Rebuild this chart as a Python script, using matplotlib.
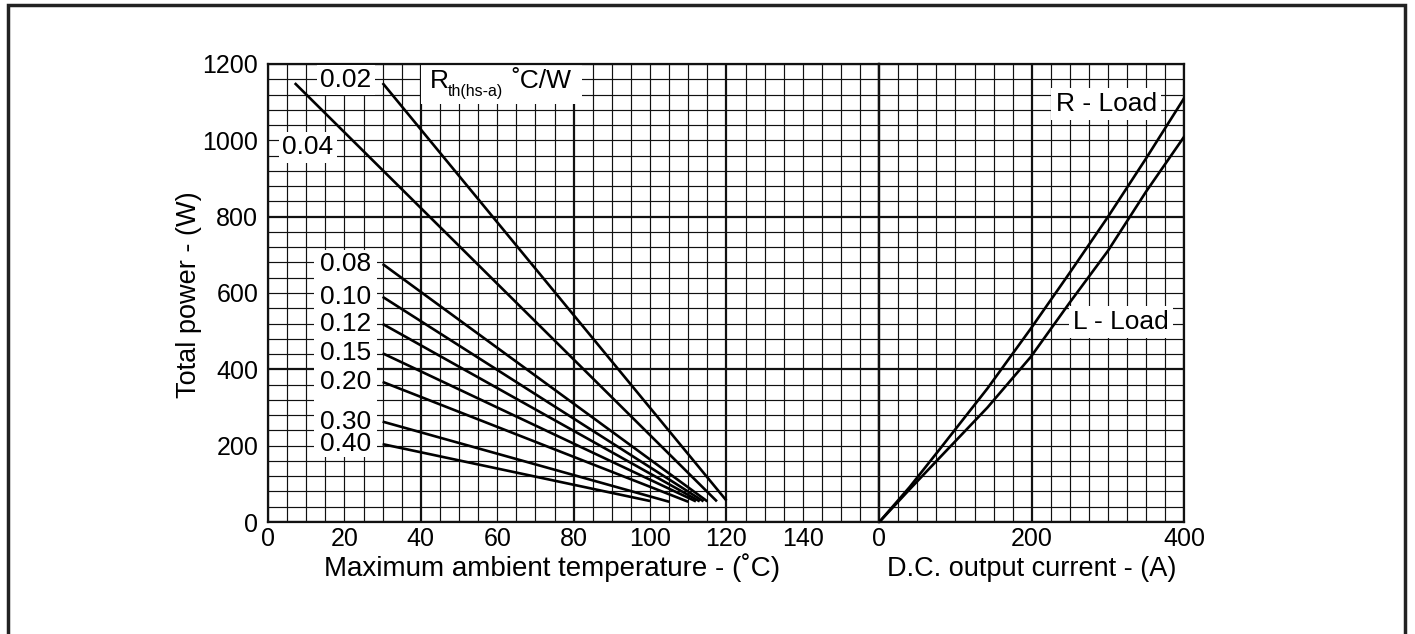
import matplotlib
matplotlib.use('Agg')
import matplotlib.pyplot as plt
import numpy as np
from matplotlib.patches import Rectangle

plt.rcParams['font.family'] = ['Liberation Sans', 'DejaVu Sans']

# ---- data ----
rth_labels = ['0.02', '0.04', '0.08', '0.10', '0.12', '0.15', '0.20', '0.30', '0.40']
t_start = [30, 7, 30, 30, 30, 30, 30, 30, 30]
p_start = [1150, 1150, 676, 590, 519, 442, 367, 263, 204]
t_end = [120, 117.5, 115, 114, 113, 112, 110, 105, 100]
p_end = [56, 54, 54, 54, 54, 54, 53, 53, 55]

r_current = [0, 40, 79, 142, 199, 250, 300, 350, 400]
r_power = [0, 92, 190, 350, 507, 653, 799, 952, 1110]
l_current = [0, 40, 79, 142, 199, 250, 300, 350, 400]
l_power = [0, 86, 168, 300, 433, 575, 710, 865, 1009]

temp_ticks = [0, 20, 40, 60, 80, 100, 120, 140]
current_ticks = [0, 200, 400]
power_ticks = [0, 200, 400, 600, 800, 1000, 1200]

W, H = 1415, 634
fig = plt.figure(figsize=(W / 100, H / 100), dpi=100)

x0, xm, x1 = 268, 879.3, 1184
ytop, ybot = 64, 522
b = (H - ybot) / H
h = (ybot - ytop) / H
ax1 = fig.add_axes([x0 / W, b, (xm - x0) / W, h])
ax2 = fig.add_axes([xm / W, b, (x1 - xm) / W, h])

GC = '#111111'


def draw_grid(ax, xmax, xminor, xmajor):
    for x in np.arange(0, xmax + 1e-9, xminor):
        major = abs((x / xmajor) - round(x / xmajor)) < 1e-9
        ax.axvline(x, color=GC, lw=1.6 if major else 0.85, zorder=1)
    for y in np.arange(0, 1200 + 1e-9, 40):
        major = abs((y / 400) - round(y / 400)) < 1e-9
        ax.axhline(y, color=GC, lw=1.6 if major else 0.85, zorder=1)


ax1.set_xlim(0, 160)
ax1.set_ylim(0, 1200)
ax2.set_xlim(0, 400)
ax2.set_ylim(0, 1200)
draw_grid(ax1, 160, 5, 40)
draw_grid(ax2, 400, 25, 200)

for ax in (ax1, ax2):
    for s in ax.spines.values():
        s.set_linewidth(1.6)
        s.set_color(GC)
    ax.tick_params(axis='x', length=0, labelsize=18, pad=3.5)
    ax.tick_params(axis='y', length=0, labelsize=18, pad=7)

ax1.set_xticks(temp_ticks)
ax1.set_yticks(power_ticks)
ax2.set_xticks(current_ticks)
ax2.set_yticks([])

LW = 1.9
for i in range(len(rth_labels)):
    ax1.plot([t_start[i], t_end[i]], [p_start[i], p_end[i]], color='black', lw=LW, zorder=3,
             solid_capstyle='butt')

ax2.plot(r_current, r_power, color='black', lw=LW, zorder=3)
ax2.plot(l_current, l_power, color='black', lw=LW, zorder=3)

# white label areas
ax1.add_patch(Rectangle((12, 171), 16.4, 541, facecolor='white', edgecolor='none', zorder=2))
ax1.add_patch(Rectangle((40.1, 1094), 42.1, 106, facecolor='white', edgecolor='none', zorder=2))

LFS = 19
bb = dict(facecolor='white', edgecolor='none', pad=2.5)
ax1.text(20.4, 1158, rth_labels[0], ha='center', va='center', fontsize=LFS, bbox=bb, zorder=4)
ax1.text(10.4, 982, rth_labels[1], ha='center', va='center', fontsize=LFS, bbox=bb, zorder=4)
for i in range(2, len(rth_labels)):
    ax1.text(27, p_start[i], rth_labels[i], ha='right', va='center', fontsize=LFS, zorder=4)

ax1.text(42.3, 1137, 'R', ha='left', va='baseline', fontsize=LFS, zorder=4)
ax1.text(47.0, 1116, 'th(hs-a)', ha='left', va='baseline', fontsize=11.5, zorder=4)
ax1.text(63.6, 1137, '˚C/W', ha='left', va='baseline', fontsize=LFS, zorder=4)

ax2.text(297.8, 1095, 'R - Load', ha='center', va='center', fontsize=LFS,
         bbox=dict(facecolor='white', edgecolor='none', pad=3), zorder=4)
ax2.text(316.8, 524, 'L - Load', ha='center', va='center', fontsize=LFS,
         bbox=dict(facecolor='white', edgecolor='none', pad=3), zorder=4)

fig.text(552 / W, 1 - 576 / H, 'Maximum ambient temperature - (˚C)', ha='center', va='baseline', fontsize=20)
fig.text(1032 / W, 1 - 576 / H, 'D.C. output current - (A)', ha='center', va='baseline', fontsize=19.5)
fig.text(189 / W, 1 - 295 / H, 'Total power - (W)', ha='center', va='center', rotation=90, fontsize=19.5)

# outer frame
fig.patches.append(Rectangle((8 / W, -0.05), (1405 - 8) / W, (1 - 5 / H) + 0.05, transform=fig.transFigure,
                             facecolor='none', edgecolor='#222222', lw=2.5, zorder=0))

fig.savefig('out.png', dpi=100)
